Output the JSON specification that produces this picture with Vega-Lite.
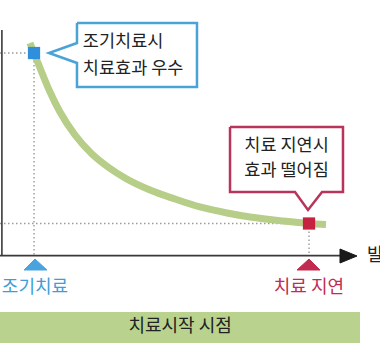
{
  "$schema": "https://vega.github.io/schema/vega-lite/v6.json",
  "width": 380,
  "height": 353,
  "padding": 0,
  "autosize": {"type": "none"},
  "background": "white",
  "config": {"view": {"stroke": null}, "text": {"font": "Noto Sans CJK KR"}},
  "resolve": {"scale": {"color": "independent"}},
  "datasets": {
    "curve": [
      {"t": 7.89, "e": 104.8}, {"t": 8.95, "e": 99.87}, {"t": 10.53, "e": 92.48}, {"t": 13.16, "e": 80.65},
      {"t": 15.79, "e": 70.79}, {"t": 19.74, "e": 59.45}, {"t": 24.21, "e": 50.09}, {"t": 28.42, "e": 43.68},
      {"t": 32.89, "e": 38.26}, {"t": 39.47, "e": 32.34}, {"t": 46.05, "e": 27.91}, {"t": 52.63, "e": 23.97},
      {"t": 59.74, "e": 21.01}, {"t": 65.79, "e": 19.04}, {"t": 74.47, "e": 17.06}, {"t": 81.32, "e": 15.83},
      {"t": 85.79, "e": 15.34}
    ],
    "guides": [
      {"x": 0, "x2": 8.95, "y": 99.87, "y2": 99.87},
      {"x": 8.95, "x2": 8.95, "y": 99.87, "y2": 0},
      {"x": 0, "x2": 81.32, "y": 15.83, "y2": 15.83},
      {"x": 81.32, "x2": 81.32, "y": 15.83, "y2": 0}
    ],
    "axes": [
      {"x": 0.5, "x2": 0.5, "y": 111.2, "y2": 0},
      {"x": 0, "x2": 90, "y": 0, "y2": 0}
    ],
    "shapes": [
      {"s": "blueCall", "i": 0, "x": 20.26, "y": 114.66},
      {"s": "blueCall", "i": 1, "x": 51.84, "y": 114.66},
      {"s": "blueCall", "i": 2, "x": 51.84, "y": 83.12},
      {"s": "blueCall", "i": 3, "x": 20.26, "y": 83.12},
      {"s": "blueCall", "i": 4, "x": 20.26, "y": 94.95},
      {"s": "blueCall", "i": 5, "x": 12.89, "y": 99.87},
      {"s": "blueCall", "i": 6, "x": 20.26, "y": 104.8},
      {"s": "blueCall", "i": 7, "x": 20.26, "y": 114.66},
      {"s": "redCall", "i": 0, "x": 60.53, "y": 63.4},
      {"s": "redCall", "i": 1, "x": 90.26, "y": 63.4},
      {"s": "redCall", "i": 2, "x": 90.26, "y": 31.36},
      {"s": "redCall", "i": 3, "x": 84.74, "y": 31.36},
      {"s": "redCall", "i": 4, "x": 81.05, "y": 22.5},
      {"s": "redCall", "i": 5, "x": 77.63, "y": 31.36},
      {"s": "redCall", "i": 6, "x": 60.53, "y": 31.36},
      {"s": "redCall", "i": 7, "x": 60.53, "y": 63.4},
      {"s": "blueTri", "i": 0, "x": 6.32, "y": -7.09},
      {"s": "blueTri", "i": 1, "x": 9.21, "y": -1.67},
      {"s": "blueTri", "i": 2, "x": 12.37, "y": -7.09},
      {"s": "blueTri", "i": 3, "x": 6.32, "y": -7.09},
      {"s": "redTri", "i": 0, "x": 78.16, "y": -7.09},
      {"s": "redTri", "i": 1, "x": 81.32, "y": -1.67},
      {"s": "redTri", "i": 2, "x": 84.21, "y": -7.09},
      {"s": "redTri", "i": 3, "x": 78.16, "y": -7.09},
      {"s": "arrow", "i": 0, "x": 89.47, "y": 3.26},
      {"s": "arrow", "i": 1, "x": 93.95, "y": -0.19},
      {"s": "arrow", "i": 2, "x": 89.47, "y": -3.64},
      {"s": "arrow", "i": 3, "x": 89.47, "y": 3.26}
    ],
    "points": [
      {"name": "early", "t": 8.95, "e": 99.87},
      {"name": "late", "t": 81.32, "e": 15.83}
    ],
    "texts": [
      {"g": "callLeft", "label": "조기치료시", "x": 21.8, "y": 105.5},
      {"g": "callLeft", "label": "치료효과 우수", "x": 21.8, "y": 92.2},
      {"g": "callCenter", "label": "치료 지연시", "x": 75.4, "y": 54.0},
      {"g": "callCenter", "label": "효과 떨어짐", "x": 75.4, "y": 41.7},
      {"g": "blueLabel", "label": "조기치료", "x": 9.2, "y": -15.9},
      {"g": "redLabel", "label": "치료 지연", "x": 81.3, "y": -15.9},
      {"g": "barLabel", "label": "치료시작 시점", "x": 47.4, "y": -35.2},
      {"g": "axisLabel", "label": "발병 후 시간", "x": 96.6, "y": 0}
    ],
    "bar": [{"x": 0, "x2": 94.74, "y": -27.8, "y2": -43.1}]
  },
  "layer": [
    {
      "data": {"name": "bar"},
      "mark": {"type": "rect", "color": "#b9d38e"},
      "encoding": {
        "x": {"field": "x", "type": "quantitative", "scale": {"domain": [0, 100], "nice": false, "zero": false}, "axis": null},
        "x2": {"field": "x2"},
        "y": {"field": "y", "type": "quantitative", "scale": {"domain": [-48, 126], "nice": false, "zero": false}, "axis": null},
        "y2": {"field": "y2"}
      }
    },
    {
      "data": {"name": "guides"},
      "mark": {"type": "rule", "color": "#9a9a9a", "strokeWidth": 1.4, "strokeDash": [1.5, 2.5]},
      "encoding": {
        "x": {"field": "x", "type": "quantitative"},
        "x2": {"field": "x2"},
        "y": {"field": "y", "type": "quantitative"},
        "y2": {"field": "y2"}
      }
    },
    {
      "data": {"name": "axes"},
      "mark": {"type": "rule", "color": "#3a3a3a", "strokeWidth": 1.6},
      "encoding": {
        "x": {"field": "x", "type": "quantitative"},
        "x2": {"field": "x2"},
        "y": {"field": "y", "type": "quantitative"},
        "y2": {"field": "y2"}
      }
    },
    {
      "data": {"name": "curve"},
      "mark": {"type": "line", "color": "#b6ce88", "strokeWidth": 7, "interpolate": "monotone"},
      "encoding": {
        "x": {"field": "t", "type": "quantitative"},
        "y": {"field": "e", "type": "quantitative"}
      }
    },
    {
      "data": {"name": "points"},
      "mark": {"type": "point", "shape": "square", "filled": true, "size": 150, "opacity": 1},
      "encoding": {
        "x": {"field": "t", "type": "quantitative"},
        "y": {"field": "e", "type": "quantitative"},
        "color": {"field": "name", "type": "nominal", "scale": {"domain": ["early", "late"], "range": ["#2f8fdc", "#c6223f"]}, "legend": null}
      }
    },
    {
      "data": {"name": "shapes"},
      "transform": [{"filter": "datum.s === 'blueCall'"}],
      "mark": {"type": "line", "fill": "white", "stroke": "#4aa3d6", "strokeWidth": 2.5, "strokeJoin": "miter"},
      "encoding": {
        "x": {"field": "x", "type": "quantitative"},
        "y": {"field": "y", "type": "quantitative"},
        "order": {"field": "i", "type": "quantitative"}
      }
    },
    {
      "data": {"name": "shapes"},
      "transform": [{"filter": "datum.s === 'redCall'"}],
      "mark": {"type": "line", "fill": "white", "stroke": "#b8345a", "strokeWidth": 2.5, "strokeJoin": "miter"},
      "encoding": {
        "x": {"field": "x", "type": "quantitative"},
        "y": {"field": "y", "type": "quantitative"},
        "order": {"field": "i", "type": "quantitative"}
      }
    },
    {
      "data": {"name": "shapes"},
      "transform": [{"filter": "datum.s === 'blueTri'"}],
      "mark": {"type": "line", "fill": "#4aa3dc", "stroke": "#4aa3dc", "strokeWidth": 1},
      "encoding": {
        "x": {"field": "x", "type": "quantitative"},
        "y": {"field": "y", "type": "quantitative"},
        "order": {"field": "i", "type": "quantitative"}
      }
    },
    {
      "data": {"name": "shapes"},
      "transform": [{"filter": "datum.s === 'redTri'"}],
      "mark": {"type": "line", "fill": "#c22a4f", "stroke": "#c22a4f", "strokeWidth": 1},
      "encoding": {
        "x": {"field": "x", "type": "quantitative"},
        "y": {"field": "y", "type": "quantitative"},
        "order": {"field": "i", "type": "quantitative"}
      }
    },
    {
      "data": {"name": "shapes"},
      "transform": [{"filter": "datum.s === 'arrow'"}],
      "mark": {"type": "line", "fill": "#1a1a1a", "stroke": "#1a1a1a", "strokeWidth": 1},
      "encoding": {
        "x": {"field": "x", "type": "quantitative"},
        "y": {"field": "y", "type": "quantitative"},
        "order": {"field": "i", "type": "quantitative"}
      }
    },
    {
      "data": {"name": "texts"},
      "transform": [{"filter": "datum.g === 'callLeft'"}],
      "mark": {"type": "text", "align": "left", "baseline": "middle", "fontSize": 17.5, "color": "#222222"},
      "encoding": {
        "x": {"field": "x", "type": "quantitative"},
        "y": {"field": "y", "type": "quantitative"},
        "text": {"field": "label"}
      }
    },
    {
      "data": {"name": "texts"},
      "transform": [{"filter": "datum.g === 'callCenter'"}],
      "mark": {"type": "text", "align": "center", "baseline": "middle", "fontSize": 17.5, "color": "#222222"},
      "encoding": {
        "x": {"field": "x", "type": "quantitative"},
        "y": {"field": "y", "type": "quantitative"},
        "text": {"field": "label"}
      }
    },
    {
      "data": {"name": "texts"},
      "transform": [{"filter": "datum.g === 'blueLabel' || datum.g === 'redLabel' || datum.g === 'barLabel'"}],
      "mark": {"type": "text", "align": "center", "baseline": "middle", "fontSize": 18},
      "encoding": {
        "x": {"field": "x", "type": "quantitative"},
        "y": {"field": "y", "type": "quantitative"},
        "text": {"field": "label"},
        "color": {"field": "g", "type": "nominal", "scale": {"domain": ["blueLabel", "redLabel", "barLabel"], "range": ["#3d9ed8", "#c02c52", "#222222"]}, "legend": null}
      }
    },
    {
      "data": {"name": "texts"},
      "transform": [{"filter": "datum.g === 'axisLabel'"}],
      "mark": {"type": "text", "align": "left", "baseline": "middle", "fontSize": 18, "color": "#222222"},
      "encoding": {
        "x": {"field": "x", "type": "quantitative"},
        "y": {"field": "y", "type": "quantitative"},
        "text": {"field": "label"}
      }
    }
  ]
}
